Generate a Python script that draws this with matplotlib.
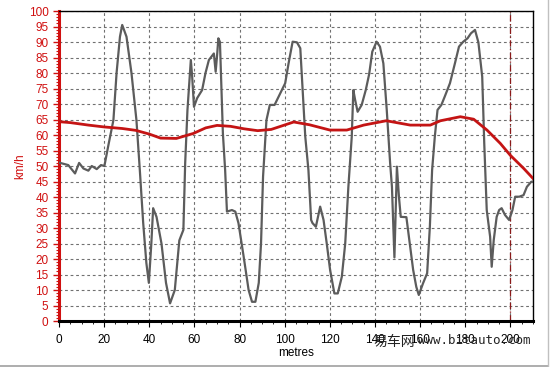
import numpy as np
import matplotlib
matplotlib.use("Agg")
import matplotlib.pyplot as plt
from matplotlib.ticker import MultipleLocator
from matplotlib.lines import Line2D

# speed trace (gray), km/h against metres
speed_x = [0, 4.1, 7.1, 8.9, 10.8, 13.0, 14.5, 16.7, 18.6, 20.1, 21.9, 24.1, 25.5, 27.0,
           28.0, 29.9, 32.1, 34.3, 35.8, 37.3, 38.7, 39.8, 40.9, 41.7, 43.2, 45.4, 47.4,
           49.2, 51.3, 53.3, 55.1, 55.9, 56.9, 58.4, 59.0, 59.8, 61.2, 63.4, 64.9, 66.4,
           68.6, 69.4, 70.1, 70.6, 71.3, 72.6, 73.6, 74.4, 76.6, 78.1, 79.5, 81.8, 84.0,
           85.5, 87.0, 88.5, 89.5, 90.4, 91.9, 93.4, 95.5, 98.0, 100.2, 101.7, 103.5,
           105.4, 106.9, 107.6, 109.1, 110.5, 111.7, 112.3, 113.8, 115.7, 117.2, 118.6,
           120.1, 122.0, 123.5, 125.3, 126.8, 128.2, 129.7, 130.4, 131.2, 132.3, 134.1,
           135.9, 137.4, 138.8, 140.7, 142.2, 143.7, 145.2, 146.7, 147.5, 148.6, 149.7,
           150.6, 151.4, 153.9, 155.4, 156.9, 158.3, 159.4, 161.3, 163.1, 164.3, 165.3,
           166.5, 167.7, 169.4, 170.9, 173.2, 175.4, 177.2, 179.1, 181.0, 182.5, 184.3,
           185.8, 187.5, 188.4, 189.5, 191.0, 191.7, 192.6, 193.9, 195.0, 196.1, 197.6,
           199.4, 200.9, 202.1, 203.9, 205.8, 207.3, 209.2, 210.0]
speed_y = [51.1, 50.3, 47.6, 51.0, 49.2, 48.5, 50.0, 49.0, 50.3, 50.0, 56.8, 64.8, 80.0, 91.7,
           95.5, 91.7, 80.0, 64.8, 48.7, 31.6, 18.7, 12.3, 25.0, 36.4, 33.6, 25.0, 12.3,
           5.7, 10.0, 26.0, 29.4, 51.0, 68.0, 84.2, 78.8, 69.1, 71.9, 74.5, 80.0, 84.2,
           86.3, 80.4, 86.3, 91.2, 90.0, 60.6, 48.7, 35.3, 35.8, 35.3, 31.6, 20.8, 10.0,
           6.2, 6.2, 12.3, 25.0, 46.6, 64.8, 69.7, 69.7, 73.4, 76.7, 83.1, 90.1,
           89.9, 88.0, 78.8, 59.5, 48.7, 32.6, 31.6, 30.4, 36.9, 32.6, 25.1,
           16.5, 8.9, 8.9, 14.3, 25.0, 43.3, 59.5, 74.5, 71.3, 67.5, 69.7,
           74.5, 79.6, 86.9, 90.1, 88.5, 83.1, 68.1, 50.9, 43.3, 20.5, 49.8,
           40.1, 33.6, 33.5, 25.0, 16.5, 11.0, 8.4, 12.2, 15.4, 30.4, 48.7,
           59.5, 68.1, 69.7, 72.4, 76.7, 83.1, 88.5, 90.1, 91.2, 92.8, 93.9,
           89.9, 78.8, 57.3, 35.8, 27.2, 17.5, 26.1, 33.6, 35.8, 36.4, 34.2,
           32.6, 35.8, 40.1, 40.1, 40.6, 43.3, 44.9, 45.0]

# average speed trace (red)
avg_x = [0, 5, 13, 20, 28, 34, 40, 45, 52, 59.5, 65, 70, 76, 82, 88, 94, 99, 104, 111,
         120, 127.5, 135, 145, 155.6, 164.5, 169, 177.8, 183.7, 189.6, 195.5, 199.9,
         205.9, 210]
avg_y = [64.3, 64.0, 63.2, 62.6, 62.1, 61.5, 60.3, 59.0, 58.9, 60.5, 62.3, 63.1, 62.8,
         62.0, 61.4, 61.8, 63.0, 64.2, 63.3, 61.6, 61.6, 63.2, 64.6, 63.2, 63.2, 64.6,
         65.9, 65.1, 61.6, 57.3, 53.5, 49.2, 46.0]

x_ticks = list(range(0, 201, 20))
y_ticks = list(range(0, 101, 5))

plt.rcParams['font.family'] = ['Liberation Sans', 'DejaVu Sans']

fig = plt.figure(figsize=(5.5, 3.67), dpi=100)
ax = fig.add_axes([0.1073, 0.1253, 0.8618, 0.8447])

ax.plot(speed_x, speed_y, color='#5c5c5c', lw=1.6, zorder=3)
ax.plot(avg_x, avg_y, color='#c41414', lw=2.0, zorder=4)
ax.axvline(200, color='#8b1a1a', lw=0.9, ls=(0, (5, 2, 1, 2)), zorder=2)

ax.set_xlim(0, 210)
ax.set_ylim(0, 100)
ax.set_xticks(x_ticks)
ax.set_yticks(y_ticks)
ax.xaxis.set_minor_locator(MultipleLocator(5))
ax.yaxis.set_minor_locator(MultipleLocator(1))
ax.grid(True, which='major', color='#707070', ls=(0, (2.5, 2.5)), lw=0.8)

ax.tick_params(axis='y', which='both', colors='#d01010', labelsize=8.5, direction='out')
ax.tick_params(axis='y', which='major', length=4, width=1)
ax.tick_params(axis='y', which='minor', length=2, width=0.8)
ax.tick_params(axis='x', which='major', labelsize=8.5, length=4, colors='black', pad=5)
ax.tick_params(axis='x', which='minor', length=2)

ax.spines['left'].set_color('#d01010')
ax.spines['left'].set_linewidth(2.2)
ax.spines['bottom'].set_linewidth(2.2)
ax.spines['top'].set_linewidth(1.0)
ax.spines['right'].set_linewidth(1.0)

ax.set_xlabel('metres', fontsize=8.5, labelpad=1)
ax.set_ylabel('km/h', fontsize=8.5, color='#d01010', labelpad=2)

# watermark (overlaps the tick labels, as in the source image)
fig.text(373 / 550, 0.058, '易车网', fontsize=10, color='#222222',
         family=['Noto Sans CJK SC', 'DejaVu Sans'])
fig.text(418 / 550, 0.062, 'www.bitauto.com', fontsize=9, color='#222222',
         family=['DejaVu Sans Mono'])

# image frame at bottom and right
fig.add_artist(Line2D([0, 0.997], [0.004, 0.004], color='#a0a0a0', lw=1.2,
                      transform=fig.transFigure))
fig.add_artist(Line2D([0.997, 0.997], [0.004, 1], color='#c0c0c0', lw=1.0,
                      transform=fig.transFigure))

fig.savefig('out.png', dpi=100)
